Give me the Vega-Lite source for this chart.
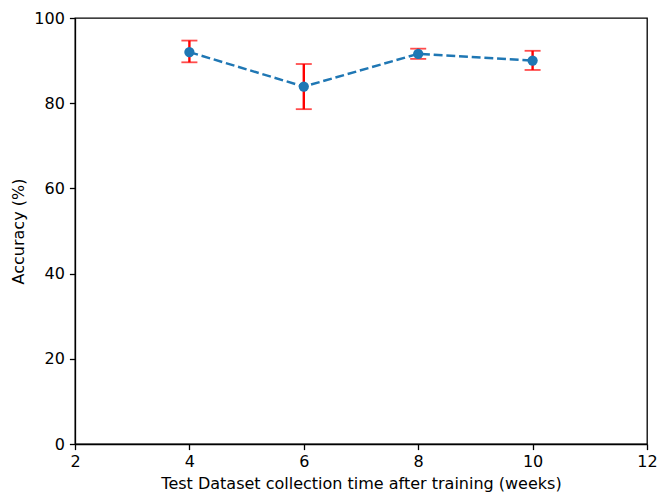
{
  "$schema": "https://vega.github.io/schema/vega-lite/v6.json",
  "width": 572,
  "height": 426,
  "autosize": {"type": "none"},
  "padding": {"left": 75, "top": 18, "right": 12, "bottom": 49},
  "background": "white",
  "config": {
    "view": {"stroke": "black", "strokeWidth": 1.3},
    "font": "DejaVu Sans",
    "axis": {
      "grid": false,
      "domainColor": "black",
      "domainWidth": 1.3,
      "tickColor": "black",
      "tickWidth": 1.3,
      "tickSize": 5.6,
      "labelFont": "DejaVu Sans",
      "labelFontSize": 16,
      "labelColor": "black",
      "labelPadding": 4,
      "labelFlush": false,
      "labelOverlap": false,
      "titleFont": "DejaVu Sans",
      "titleFontSize": 16,
      "titleFontWeight": "normal",
      "titleColor": "black"
    }
  },
  "data": {
    "values": [
      {"weeks": 4, "acc": 92.0, "lo": 89.6, "hi": 94.7},
      {"weeks": 6, "acc": 83.9, "lo": 78.6, "hi": 89.2},
      {"weeks": 8, "acc": 91.6, "lo": 90.4, "hi": 92.8},
      {"weeks": 10, "acc": 90.0, "lo": 87.8, "hi": 92.3}
    ]
  },
  "encoding": {
    "x": {
      "field": "weeks",
      "type": "quantitative",
      "scale": {"domain": [2, 12], "nice": false, "zero": false},
      "axis": {"values": [2, 4, 6, 8, 10, 12], "title": "Test Dataset collection time after training (weeks)", "titlePadding": 6}
    }
  },
  "layer": [
    {
      "mark": {"type": "rule", "color": "red", "strokeWidth": 2.4},
      "encoding": {
        "y": {"field": "lo", "type": "quantitative", "scale": {"domain": [0, 100], "nice": false},
          "axis": {"values": [0, 20, 40, 60, 80, 100], "title": "Accuracy (%)", "titlePadding": 7, "labelPadding": 5}},
        "y2": {"field": "hi"}
      }
    },
    {
      "mark": {"type": "tick", "color": "red", "orient": "horizontal", "size": 16, "thickness": 1.8},
      "encoding": {"y": {"field": "lo", "type": "quantitative"}}
    },
    {
      "mark": {"type": "tick", "color": "red", "orient": "horizontal", "size": 16, "thickness": 1.8},
      "encoding": {"y": {"field": "hi", "type": "quantitative"}}
    },
    {
      "mark": {"type": "line", "color": "#1f77b4", "strokeWidth": 2.4, "strokeDash": [8.9, 3.8]},
      "encoding": {"y": {"field": "acc", "type": "quantitative"}}
    },
    {
      "mark": {"type": "point", "shape": "circle", "filled": true, "opacity": 1, "color": "#1f77b4", "size": 105},
      "encoding": {"y": {"field": "acc", "type": "quantitative"}}
    }
  ]
}
